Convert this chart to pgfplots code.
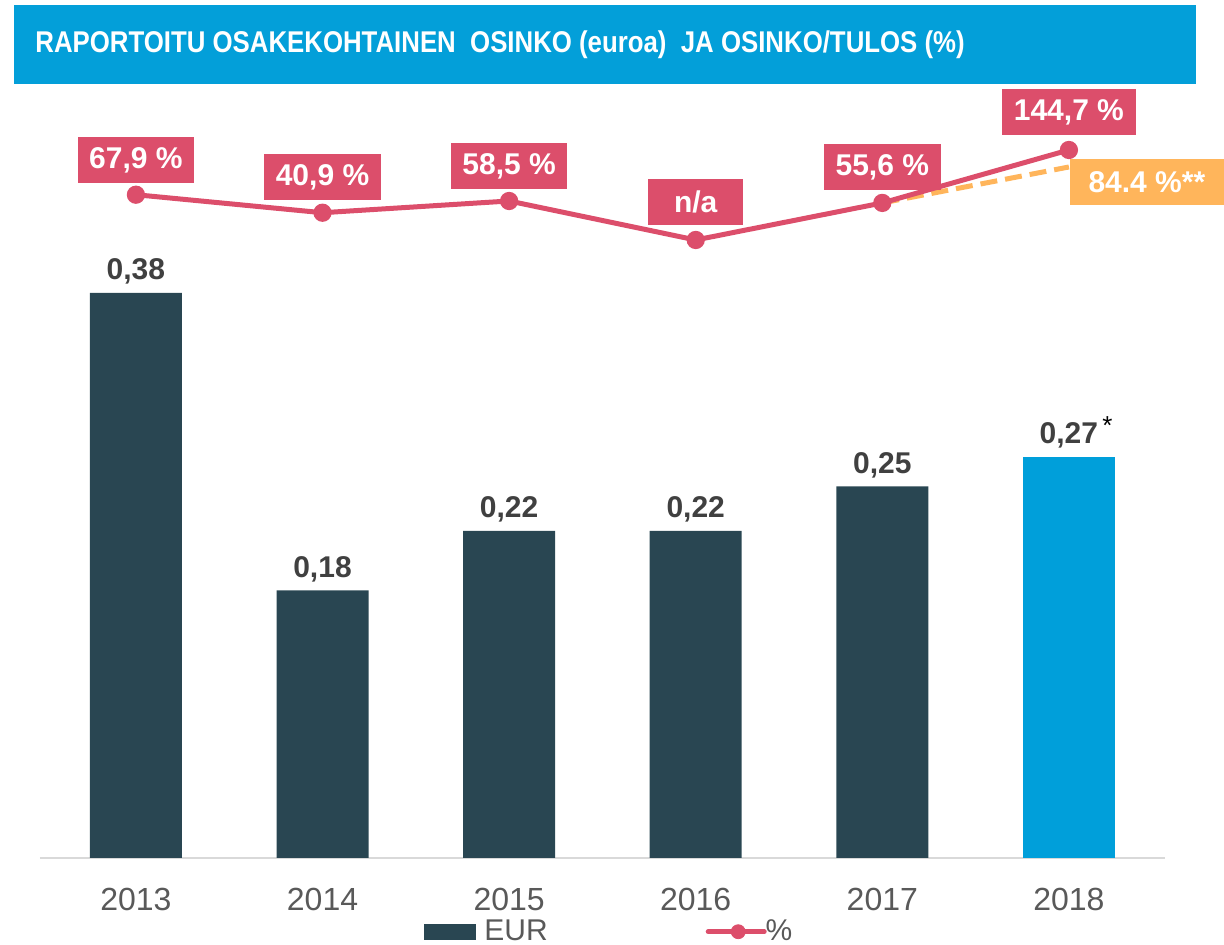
\documentclass[border=0pt]{standalone}
\usepackage{pgfplots}
\pgfplotsset{compat=1.18}
\usepackage{fontspec}
\setmainfont{Liberation Sans}
\newfontfamily\titlefont[FakeStretch=0.86]{Liberation Sans}
\definecolor{bardark}{HTML}{294652}
\definecolor{barblue}{HTML}{009FDA}
\definecolor{titleblue}{HTML}{039FD9}
\definecolor{pinkc}{HTML}{DC4E6B}
\definecolor{orangec}{HTML}{FFB55B}
\definecolor{labgray}{HTML}{404040}
\definecolor{tickgray}{HTML}{595959}
\definecolor{axgray}{HTML}{D9D9D9}
\begin{document}
\begin{tikzpicture}
\useasboundingbox (0,0) rectangle (612pt,472.5pt);
\fill[titleblue] (7pt,430.5pt) rectangle (598pt,470pt);
\node[anchor=west,text=white,inner sep=0pt,font=\titlefont\bfseries\fontsize{15}{18}\selectfont] at (17.5pt,450pt) {RAPORTOITU OSAKEKOHTAINEN\ \ OSINKO (euroa)\ \ JA OSINKO/TULOS (\%)};
\begin{axis}[
  at={(20pt,43.5pt)}, anchor=south west, scale only axis,
  width=562.5pt, height=384pt,
  xmin=-0.514, xmax=5.515, ymin=0, ymax=0.5165,
  axis x line*=bottom, axis y line=none,
  x axis line style={axgray, line width=1pt},
  clip=false,
  xtick={0,1,2,3,4,5}, xticklabels={2013,2014,2015,2016,2017,2018},
  major tick length=0pt,
  xticklabel style={anchor=base, yshift=-26.5pt, text=tickgray, font=\fontsize{16}{19}\selectfont},
  ybar, bar width=46pt,
  legend columns=2,
  legend style={at={(0.507,-0.096)}, anchor=center, draw=none, fill=none,
    font=\fontsize{15}{18}\selectfont, text=tickgray,
    /tikz/every even column/.append style={column sep=77pt},
    /tikz/every odd column/.append style={column sep=2pt}},
]
\addplot[fill=bardark, draw=none, bar shift=0pt,
  legend image code/.code={\fill[bardark] (0pt,-4pt) rectangle (26pt,4pt);}]
  coordinates {(0,0.38) (1,0.18) (2,0.22) (3,0.22) (4,0.25)};
\addlegendentry{EUR}
\addplot[fill=barblue, draw=none, bar shift=0pt, forget plot]
  coordinates {(5,0.27)};
\addlegendimage{legend image code/.code={\draw[pinkc, line width=2.5pt, line cap=round] (0pt,0pt) -- (28pt,0pt); \fill[pinkc] (15pt,0pt) circle (3.5pt);}}
\addlegendentry{\hspace{-4.5pt}\%}
\foreach \xx/\yy/\tt in {0/0.38/{0,38}, 1/0.18/{0,18}, 2/0.22/{0,22}, 3/0.22/{0,22}, 4/0.25/{0,25}} {
  \edef\temp{\noexpand\node[anchor=base, text=labgray, font=\noexpand\bfseries\noexpand\fontsize{15}{18}\noexpand\selectfont, yshift=6.5pt] at (axis cs:\xx,\yy) {\tt};}
  \temp
}
\node[anchor=base, text=labgray, font=\bfseries\fontsize{15}{18}\selectfont, yshift=6.5pt] at (axis cs:5,0.27) {0,27\rlap{\raisebox{0.55ex}{\normalfont\fontsize{13}{15}\selectfont\color{black}\,*}}};
\end{axis}
\begin{axis}[
  at={(20pt,43.5pt)}, anchor=south west, scale only axis,
  width=562.5pt, height=384pt,
  xmin=-0.514, xmax=5.515, ymin=-927, ymax=225,
  hide axis, clip=false,
]
\addplot[orangec, line width=2.5pt, dash pattern=on 8.5pt off 4pt] coordinates {(4,55.6) (5,109.5)};
\addplot[pinkc, line width=2.5pt, mark=*, mark size=3.3pt, mark options={solid}] coordinates {(0,67.9) (1,40.9) (2,58.5) (3,0) (4,55.6) (5,135)};
\tikzset{lab/.style={fill=pinkc, text=white, font=\bfseries\fontsize{15}{18}\selectfont, minimum height=23pt, inner xsep=5.8pt, inner ysep=0pt}}
\node[lab] at (axis cs:0,120) {67,9 \%};
\node[lab] at (axis cs:1,94.5) {40,9 \%};
\node[lab] at (axis cs:2,111) {58,5 \%};
\node[lab, minimum width=47.5pt] at (axis cs:3,57) {n/a};
\node[lab] at (axis cs:4,109.5) {55,6 \%};
\node[lab] at (axis cs:5,192) {144,7 \%};
\node[lab, fill=orangec, minimum width=77pt] at (axis cs:5.418,87) {84.4 \%**};
\end{axis}
\end{tikzpicture}
\end{document}
